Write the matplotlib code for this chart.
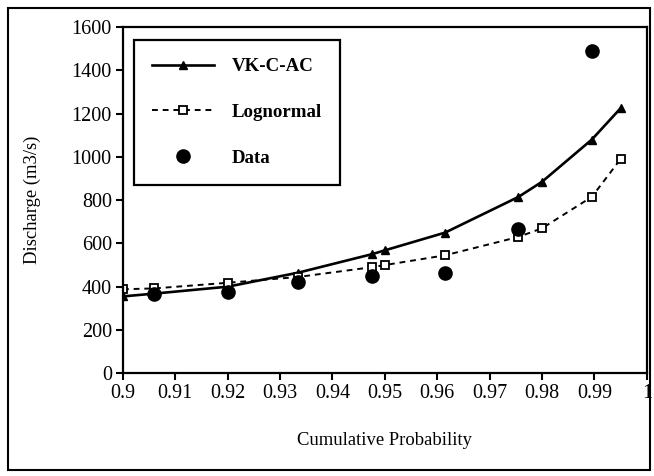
import matplotlib
matplotlib.use("Agg")
import matplotlib.pyplot as plt
from matplotlib.patches import Rectangle

# cumulative probability positions and discharge values (m3/s)
x_model = [0.9, 0.906, 0.92, 0.9335, 0.9475, 0.95, 0.9615, 0.9755, 0.98, 0.9895, 0.995]
vk_c_ac = [355, 368, 400, 465, 550, 568, 650, 815, 885, 1080, 1225]
lognormal = [388, 392, 418, 445, 490, 500, 545, 630, 670, 815, 990]

x_data = [0.906, 0.92, 0.9335, 0.9475, 0.9615, 0.9755, 0.9895]
data = [368, 375, 420, 450, 465, 665, 1490]

x_ticks = [0.9, 0.91, 0.92, 0.93, 0.94, 0.95, 0.96, 0.97, 0.98, 0.99, 1.0]
x_labels = ["0.9", "0.91", "0.92", "0.93", "0.94", "0.95", "0.96", "0.97", "0.98", "0.99", "1"]
y_ticks = [0, 200, 400, 600, 800, 1000, 1200, 1400, 1600]

plt.rcParams["font.family"] = ["Liberation Serif", "DejaVu Serif"]

fig = plt.figure(figsize=(6.54, 4.76), dpi=100)
ax = fig.add_axes([0.188, 0.216, 0.801, 0.727])

ax.plot(x_model, vk_c_ac, "-", color="black", lw=1.9, marker="^", ms=6,
        label="VK-C-AC")
ax.plot(x_model, lognormal, "--", color="black", lw=1.4, dashes=(3, 2.5),
        marker="s", ms=5.5, mfc="white", mec="black", mew=1.3, label="Lognormal")
ax.plot(x_data, data, "o", color="black", ms=9.5, label="Data")

ax.set_xlim(0.9, 1.0)
ax.set_ylim(0, 1600)
ax.set_xticks(x_ticks)
ax.set_xticklabels(x_labels)
ax.set_yticks(y_ticks)
ax.tick_params(direction="out", length=5, width=1.5, labelsize=14.5, pad=3)
for s in ax.spines.values():
    s.set_linewidth(1.6)

ax.set_xlabel("Cumulative Probability", fontsize=13.4, labelpad=21)
ax.set_ylabel("Discharge (m3/s)", fontsize=13.4, labelpad=22)

leg = ax.legend(loc="upper left", bbox_to_anchor=(0.021, 0.962), fancybox=False,
                edgecolor="black", framealpha=1, handlelength=3.3,
                borderpad=0.95, labelspacing=1.5, handletextpad=0.95,
                borderaxespad=0, prop={"weight": "bold", "size": 13.6})
leg.get_frame().set_linewidth(1.6)

# outer frame around the whole figure
fig.patches.append(Rectangle((0.012, 0.012), 0.982, 0.972, transform=fig.transFigure,
                             fill=False, edgecolor="black", lw=1.5))

fig.savefig("out.png", dpi=100)
